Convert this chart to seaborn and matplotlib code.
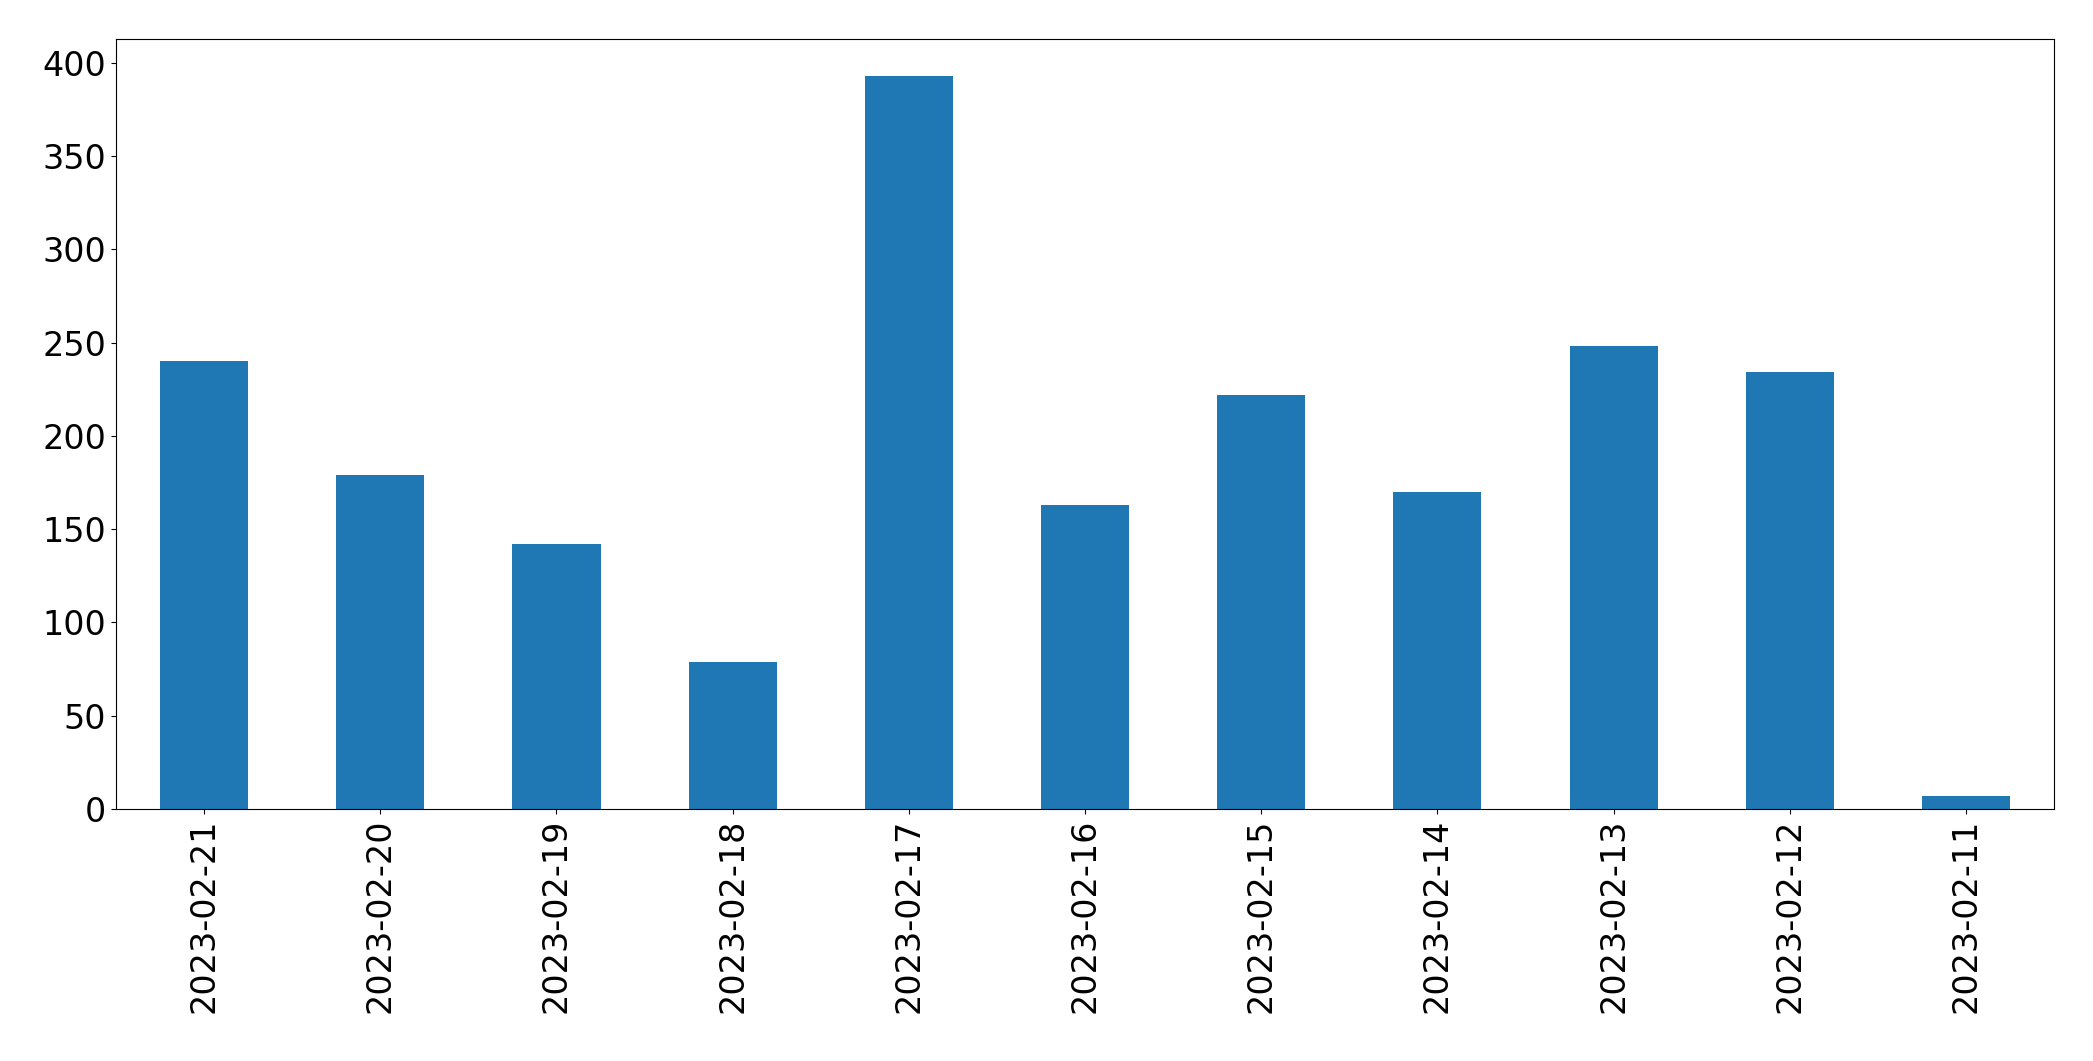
import matplotlib
matplotlib.use("Agg")
import matplotlib.pyplot as plt
import pandas as pd
import seaborn as sns

# comptes par jour (ordre decroissant des dates, comme dans la source)
dates = ["2023-02-21", "2023-02-20", "2023-02-19", "2023-02-18", "2023-02-17",
         "2023-02-16", "2023-02-15", "2023-02-14", "2023-02-13", "2023-02-12",
         "2023-02-11"]
counts = [240, 179, 142, 79, 393, 163, 222, 170, 248, 234, 7]

df = pd.DataFrame({"date": dates, "count": counts})

fig = plt.figure(figsize=(20.93, 10.61), dpi=100)
ax = fig.add_axes([116 / 2093, 1 - 809 / 1061, (2054 - 116) / 2093, (809 - 39) / 1061])
sns.barplot(data=df, x="date", y="count", order=dates, color="#1f77b4",
            saturation=1, width=0.5, linewidth=0, ax=ax)
ax.set_xlim(-0.5, len(dates) - 0.5)
ax.set_ylim(0, max(counts) * 1.05)
ax.set_xlabel("")
ax.set_ylabel("")
ax.tick_params(axis="both", labelsize=24)
ax.tick_params(axis="x", labelrotation=90)
fig.savefig("out.png", dpi=100)
plt.close(fig)
